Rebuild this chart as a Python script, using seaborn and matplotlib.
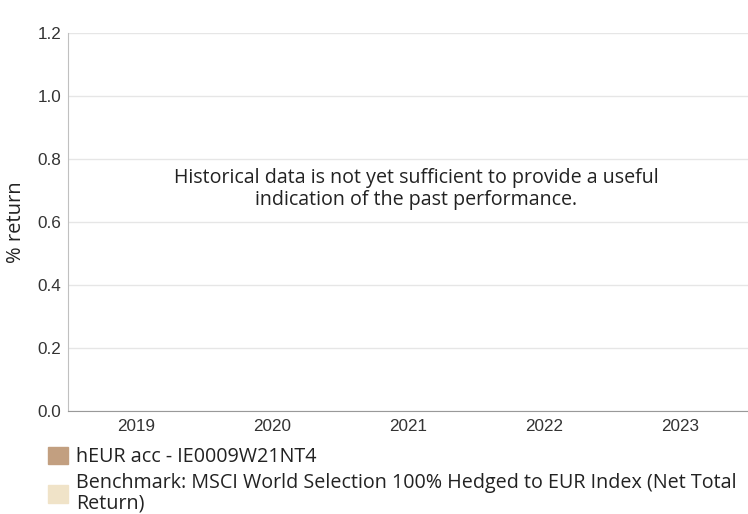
import numpy as np
import pandas as pd
import matplotlib
matplotlib.use("Agg")
import matplotlib.pyplot as plt
import matplotlib.patches as mpatches
import seaborn as sns

# Chart data (no performance data available yet)
years = ["2019", "2020", "2021", "2022", "2023"]
fund_returns = [0, 0, 0, 0, 0]
benchmark_returns = [0, 0, 0, 0, 0]
series_names = ["hEUR acc - IE0009W21NT4",
                "Benchmark: MSCI World Selection 100% Hedged to EUR Index (Net Total\nReturn)"]
series_colors = ["#c29f80", "#f0e3c8"]
y_ticks = [0.0, 0.2, 0.4, 0.6, 0.8, 1.0, 1.2]
message = "Historical data is not yet sufficient to provide a useful\nindication of the past performance."

df = pd.DataFrame({
    "year": years * 2,
    "value": fund_returns + benchmark_returns,
    "series": [series_names[0]] * len(years) + [series_names[1]] * len(years),
})

sns.set_style("white")
plt.rcParams["font.family"] = ["Open Sans", "DejaVu Sans"]

fig = plt.figure(figsize=(7.48, 5.14), dpi=100)
ax = fig.add_axes([0.0909, 0.2004, 0.9091, 0.7354])

sns.barplot(data=df, x="year", y="value", hue="series", palette=series_colors,
            ax=ax, legend=False, linewidth=0)

ax.set_xlim(-0.5, len(years) - 0.5)
ax.set_ylim(0, 1.2)
ax.set_yticks(y_ticks)
ax.set_yticklabels([f"{t:.1f}" for t in y_ticks], family="Liberation Sans",
                   fontsize=12.3, color="#333333")
ax.set_xticks(range(len(years)))
ax.set_xticklabels(years, family="Liberation Sans", fontsize=12.3, color="#333333")
ax.tick_params(axis="y", length=0, pad=5)
ax.tick_params(axis="x", length=0, pad=6)

ax.grid(axis="y", color="#e6e6e6", linewidth=1)
ax.set_axisbelow(True)
for side in ["top", "right"]:
    ax.spines[side].set_visible(False)
ax.spines["left"].set_color("#c0c0c0")
ax.spines["bottom"].set_color("#999999")

ax.set_xlabel("")
ax.set_ylabel("% return", fontsize=14.5, color="#222222", labelpad=8)

ax.text(0.512, 0.588, message, transform=ax.transAxes, ha="center", va="center",
        fontsize=14.1, color="#222222", linespacing=1.15)

handles = [mpatches.Patch(color=c, label=n) for c, n in zip(series_colors, series_names)]
fig.legend(handles=handles, loc="upper left", bbox_to_anchor=(0.064, 0.131),
           frameon=False, fontsize=14.2, handlelength=1.0, handleheight=1.0,
           handletextpad=0.45, labelspacing=0.3, borderaxespad=0, borderpad=0,
           labelcolor="#222222")
for t in fig.legends[0].get_texts():
    t.set_linespacing(1.05)

fig.savefig("out.png", dpi=100)
